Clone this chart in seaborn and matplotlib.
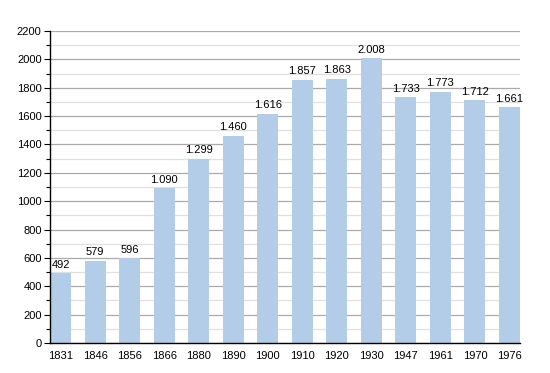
import matplotlib
matplotlib.use("Agg")
import matplotlib.pyplot as plt
from matplotlib.ticker import MultipleLocator
import seaborn as sns
import pandas as pd

years = ["1831", "1846", "1856", "1866", "1880", "1890", "1900",
         "1910", "1920", "1930", "1947", "1961", "1970", "1976"]
population = [492, 579, 596, 1090, 1299, 1460, 1616,
              1857, 1863, 2008, 1733, 1773, 1712, 1661]

df = pd.DataFrame({"Year": years, "Population": population})

sns.set_style("white")
plt.rcParams['font.family'] = ['Liberation Sans', 'DejaVu Sans']
plt.rcParams['text.color'] = 'black'
plt.rcParams['xtick.color'] = 'black'
plt.rcParams['ytick.color'] = 'black'

fig = plt.figure(figsize=(5.5, 3.73), dpi=100)
ax = fig.add_axes([50 / 550, 30 / 373, 470 / 550, 312 / 373])

bar_w = 0.61
sns.barplot(x="Year", y="Population", data=df, color="#b3cde8",
            width=bar_w, saturation=1, linewidth=0, edgecolor="none",
            ax=ax, zorder=3)

ax.set_xlim(-bar_w / 2, len(years) - 1 + bar_w / 2)
ax.set_ylim(0, 2200)
ax.yaxis.set_major_locator(MultipleLocator(200))
ax.yaxis.set_minor_locator(MultipleLocator(100))
ax.grid(axis="y", which="major", color="#aaaaaa", linewidth=0.9, zorder=0)
ax.grid(axis="y", which="minor", color="#e0e0e0", linewidth=0.9, zorder=0)
ax.set_axisbelow(True)

for s in ["top", "right"]:
    ax.spines[s].set_visible(False)
for s in ["left", "bottom"]:
    ax.spines[s].set_color("black")
    ax.spines[s].set_linewidth(1.0)
    ax.spines[s].set_zorder(4)

ax.tick_params(axis="y", which="major", left=True, length=4, width=0.8,
               labelsize=8, pad=2, colors="black")
ax.tick_params(axis="y", which="minor", left=True, length=3, width=0.8,
               colors="black")
ax.tick_params(axis="x", bottom=False, labelsize=8, pad=2, colors="black")
ax.set_xlabel("")
ax.set_ylabel("")

for i, v in enumerate(population):
    label = f"{v:,}".replace(",", ".")
    ax.text(i, v + 25, label, ha="center", va="bottom", fontsize=8,
            color="black", zorder=5)

fig.savefig("out.png", dpi=100)
